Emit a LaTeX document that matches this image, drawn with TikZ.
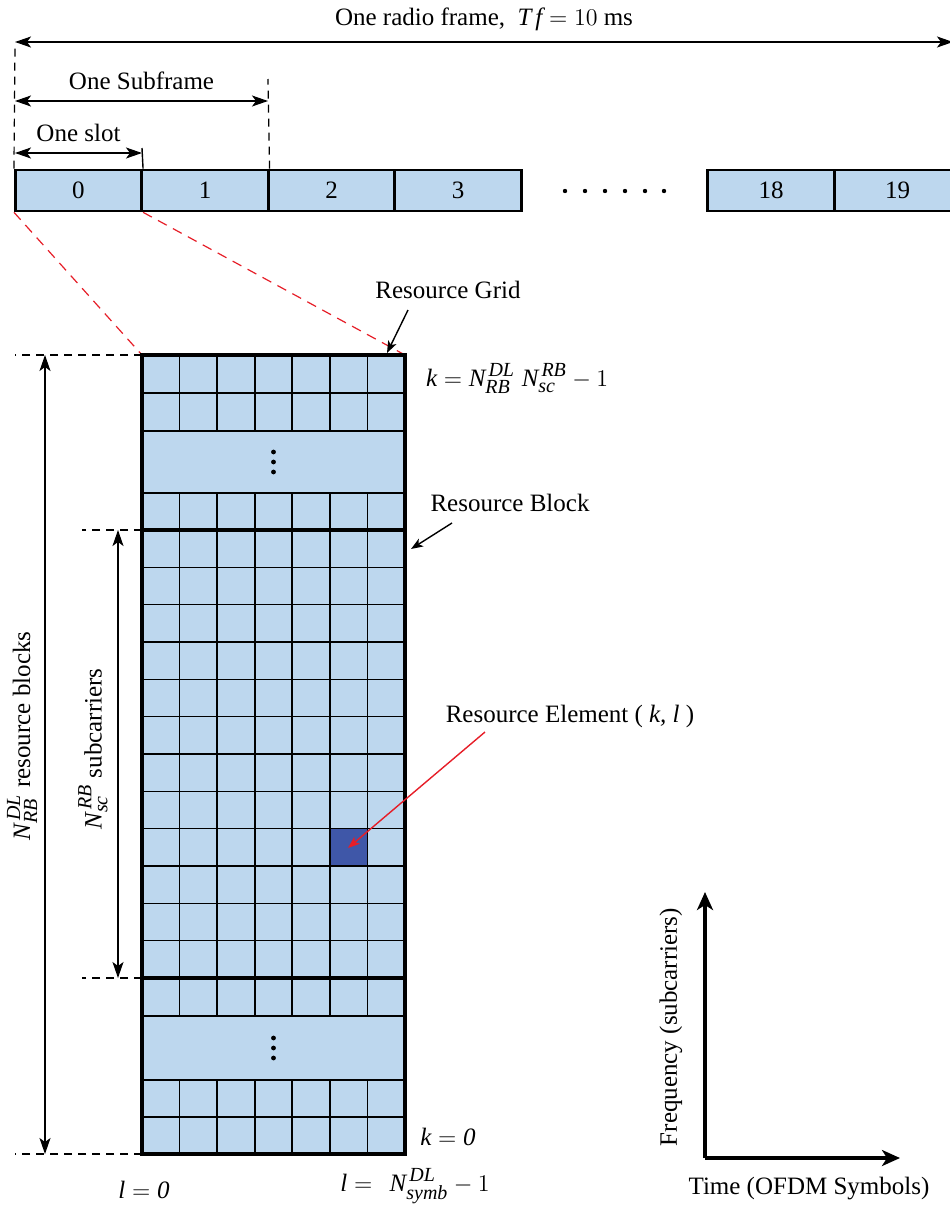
\documentclass[tikz,border=0pt]{standalone}
\usepackage{amsmath}
\usepackage{fontspec}
\setmainfont{Liberation Serif}
\usepackage{tikz}
\usetikzlibrary{arrows.meta,positioning,calc}
\definecolor{cellblue}{RGB}{189,215,238}
\definecolor{reblue}{RGB}{63,87,168}
\definecolor{linkred}{RGB}{230,30,40}
\newcommand{\ivar}[1]{\textit{#1}}
\newcommand{\scr}[1]{\mbox{\fontsize{10}{12}\selectfont\itshape #1}}

\begin{document}
\begin{tikzpicture}[
    x=0.5pt, y=-0.5pt,
    font=\fontsize{12.5}{15}\selectfont,
    slot/.style={rectangle, draw, line width=1.3pt, fill=cellblue, inner sep=0pt, minimum width=63.25pt, minimum height=20.5pt},
    dimarrow/.style={{Stealth[length=8pt,width=5.5pt,inset=2pt]}-{Stealth[length=8pt,width=5.5pt,inset=2pt]}, line width=0.7pt},
    dimline/.style={dashed, dash pattern=on 4pt off 3pt, line width=0.6pt},
    zoomline/.style={dashed, dash pattern=on 5pt off 3.5pt, line width=0.6pt, draw=linkred},
    callout/.style={-{Stealth[length=6pt,width=4.5pt,inset=1.5pt]}, line width=0.7pt},
    thin cell/.style={line width=0.8pt},
    thick border/.style={line width=1.6pt},
    axis/.style={-{Stealth[length=9pt,width=8pt,inset=2.5pt]}, line width=1.6pt}
]

\useasboundingbox (0,0) rectangle (949,1205);

% slots of one radio frame
\node[slot] (s0) at (78.5,190.5) {0};
\node[slot] (s1) at (205,190.5) {1};
\node[slot] (s2) at (331.5,190.5) {2};
\node[slot] (s3) at (458,190.5) {3};
\node[slot] (s18) at (771,190.5) {18};
\node[slot] (s19) at (897.5,190.5) {19};
\foreach \dx in {565,585,605,625,645,664}
    \fill (\dx,191) circle (1.1pt);

\coordinate (fL) at (15,42);
\coordinate (fR) at (953,42);
\coordinate (sfL) at (15,101);
\coordinate (sfR) at (268,101);
\coordinate (sfTop) at (268,79);
\coordinate (slL) at (15,153);
\coordinate (slR) at (142,153);
\coordinate (slTop) at (142,148);

\draw[dimline] (s0.north west) -- ($(fL)+(0,3)$);
\draw[dimline] (s1.north east) -- (sfTop);
\draw[line width=0.7pt] (s0.north east) -- (slTop);
\draw[dimarrow] (fL) -- (fR) node[pos=0.5, above=2pt] {One radio frame,\ \ $\ivar{T}\,\ivar{f} = 10$ ms};
\draw[dimarrow] (sfL) -- (sfR) node[midway, above=2pt] {One Subframe};
\draw[dimarrow] (slL) -- (slR) node[midway, above=2pt] {One slot};

% resource grid
\coordinate (gNW) at (142,355);
\coordinate (gNE) at (405,355);
\coordinate (gSW) at (142,1154);
\coordinate (gSE) at (405,1154);
\coordinate (rbNW) at (142,530);
\coordinate (rbSW) at (142,978);
\coordinate (rbSE) at (405,978);

\draw[zoomline] (s0.south west) -- (gNW);
\draw[zoomline] (s0.south east) -- (gNE);

\fill[cellblue] (gNW) rectangle (gSE);
\foreach \i in {1,...,6} {
    \pgfmathsetmacro{\cx}{142+\i*37.57}
    \draw[thin cell] (\cx,355) -- (\cx,431);
    \draw[thin cell] (\cx,493) -- (\cx,1016);
    \draw[thin cell] (\cx,1080) -- (\cx,1154);
}
\foreach \ry in {393,431,493,1016,1080,1117}
    \draw[thin cell] (142,\ry) -- (405,\ry);
\foreach \j in {1,...,11} {
    \pgfmathsetmacro{\cy}{530+\j*37.33}
    \draw[thin cell] (142,\cy) -- (405,\cy);
}
\draw[thin cell, fill=reblue] (329.9,828.6) rectangle (367.4,866);
\coordinate (re) at (348,848);
\foreach \dy in {452,462,472,1038,1048,1058}
    \fill (273.5,\dy) circle (1.2pt);
\draw[thick border] (gNW) rectangle (gSE);
\draw[thick border] (rbNW) rectangle (rbSE);

% labels round the grid
\node (gridlbl) at (448,290) {Resource Grid};
\draw[callout] (408,310) -- (387,353);
\node[anchor=west] (ktop) at (419,378) {$\ivar{k} = \ivar{N}^{\,\scr{DL}}_{\scr{RB}}\;\ivar{N}^{\,\scr{RB}}_{\scr{sc}} - 1$};
\node (rblbl) at (510,503) {Resource Block};
\draw[callout] (452,523) -- (411,549);
\node (relbl) at (570,716) {Resource Element ( \ivar{k, l} )};
\draw[callout, draw=linkred, fill=linkred] (485,732) -- (re);
\node (kzero) at (448,1137) {$\ivar{k} = \ivar{0}$};
\node (lzero) at (144,1190) {$\ivar{l} = \ivar{0}$};
\node (lmax) at (415,1186) {$\ivar{l} =\;\, \ivar{N}^{\,\scr{DL}}_{\scr{symb}} - 1$};

% dimensions on the left
\coordinate (rgT) at (45,355);
\coordinate (rgB) at (45,1154);
\coordinate (rbT) at (118,530);
\coordinate (rbB) at (118,978);
\draw[dimline] (gNW) -- (15,355);
\draw[dimline] (gSW) -- (15,1154);
\draw[dimline] (rbNW) -- (82,530);
\draw[dimline] (rbSW) -- (82,978);
\draw[dimarrow] (rgT) -- (rgB);
\draw[dimarrow] (rbT) -- (rbB);
\node[rotate=90] (rglbl) at (22,736) {$\ivar{N}^{\,\scr{DL}}_{\scr{RB}}$ resource blocks};
\node[rotate=90] (rbdim) at (93,749) {$\ivar{N}^{\,\scr{RB}}_{\scr{sc}}$ subcarriers};

% time / frequency axes
\coordinate (org) at (705,1158);
\coordinate (fTop) at (705,892);
\coordinate (tEnd) at (900,1158);
\draw[axis] (org) -- (fTop);
\draw[axis] (org) -- (tEnd);
\node[rotate=90] (flbl) at (671,1027) {Frequency (subcarriers)};
\node (tlbl) at (809,1189) {Time (OFDM Symbols)};

\end{tikzpicture}
\end{document}
